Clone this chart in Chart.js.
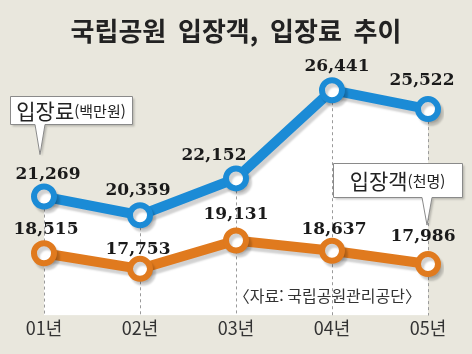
<!DOCTYPE html>
<html lang="ko">
<head>
<meta charset="UTF-8" />
<title>국립공원 입장객, 입장료 추이</title>
<script src="https://cdn.jsdelivr.net/npm/chart.js"></script>
<style>
  html, body { margin: 0; padding: 0; background: #e9e7dd; }
  #wrap { width: 472px; height: 354px; }
</style>
</head>
<body>
<div id="wrap"><canvas id="chart" width="472" height="354"></canvas></div>
<script>
  // data
  const years = ['01년', '02년', '03년', '04년', '05년'];
  const feeValues = [21269, 20359, 22152, 26441, 25522];      // 입장료(백만원)
  const visitorValues = [18515, 17753, 19131, 18637, 17986];  // 입장객(천명)

  const KR = '"Noto Sans CJK KR", "Noto Sans", sans-serif';
  const BLUE = '#1b8bd6';
  const ORANGE = '#e07a1e';

  // dashed drop lines from the upper line down to the bottom
  const dropLines = {
    id: 'dropLines',
    beforeDatasetsDraw(chart) {
      const ctx = chart.ctx, area = chart.chartArea;
      const meta = chart.getDatasetMeta(0);
      ctx.save();
      ctx.strokeStyle = '#9a9a9a';
      ctx.lineWidth = 1;
      ctx.setLineDash([3, 3]);
      meta.data.forEach(p => {
        ctx.beginPath();
        ctx.moveTo(Math.round(p.x) + 0.5, p.y);
        ctx.lineTo(Math.round(p.x) + 0.5, area.bottom);
        ctx.stroke();
      });
      ctx.restore();
    }
  };

  // soft drop shadow under lines and points
  const shadow = {
    id: 'shadow',
    beforeDatasetDraw(chart) {
      const ctx = chart.ctx;
      ctx.save();
      ctx.shadowColor = 'rgba(0,0,0,0.18)';
      ctx.shadowOffsetX = 3;
      ctx.shadowOffsetY = 4;
      ctx.shadowBlur = 2;
    },
    afterDatasetDraw(chart) {
      chart.ctx.restore();
    }
  };

  // value labels, legend callouts and source note
  const labels = {
    id: 'labels',
    afterDatasetsDraw(chart, args, opts) {
      const ctx = chart.ctx;
      ctx.save();
      ctx.font = 'bold 17px "DejaVu Serif", serif';
      ctx.fillStyle = '#1a1a1a';
      ctx.textAlign = 'center';
      ctx.textBaseline = 'alphabetic';
      chart.data.datasets.forEach((ds, di) => {
        const meta = chart.getDatasetMeta(di);
        const sh = opts.shift[di];
        meta.data.forEach((p, i) => {
          ctx.fillText(ds.data[i].toLocaleString('en-US'), p.x + sh.dx[i], p.y - sh.dy[i]);
        });
      });

      const fee0 = chart.getDatasetMeta(0).data[0];
      const vis4 = chart.getDatasetMeta(1).data[4];
      callout(ctx, 10, 96, 122, 28, fee0.x - 4, fee0.y - 42, '입장료', '(백만원)');
      callout(ctx, 333, 163, 129, 34, vis4.x - 1, vis4.y - 39, '입장객', '(천명)');

      ctx.font = '16px ' + KR;
      ctx.fillStyle = '#333';
      ctx.textAlign = 'right';
      ctx.textBaseline = 'middle';
      ctx.fillText('〈자료: 국립공원관리공단〉', 421, 296);
      ctx.restore();
    }
  };

  function callout(ctx, x, y, w, h, tipX, tipY, big, small) {
    ctx.save();
    ctx.shadowColor = 'rgba(0,0,0,0.2)';
    ctx.shadowOffsetX = 2;
    ctx.shadowOffsetY = 2;
    ctx.shadowBlur = 2;
    ctx.fillStyle = '#fff';
    ctx.strokeStyle = '#8a8a8a';
    ctx.lineWidth = 1;
    ctx.beginPath();
    ctx.moveTo(x + 0.5, y + 0.5);
    ctx.lineTo(x + w + 0.5, y + 0.5);
    ctx.lineTo(x + w + 0.5, y + h + 0.5);
    ctx.lineTo(tipX + 5, y + h + 0.5);
    ctx.lineTo(tipX, tipY);
    ctx.lineTo(tipX - 5, y + h + 0.5);
    ctx.lineTo(x + 0.5, y + h + 0.5);
    ctx.closePath();
    ctx.fill();
    ctx.shadowColor = 'transparent';
    ctx.stroke();
    ctx.fillStyle = '#222';
    ctx.textBaseline = 'middle';
    ctx.textAlign = 'left';
    ctx.font = '21px ' + KR;
    const bw = ctx.measureText(big).width;
    ctx.font = '15px ' + KR;
    const sw = ctx.measureText(small).width;
    const sx = x + (w - bw - sw) / 2;
    ctx.font = '21px ' + KR;
    ctx.fillText(big, sx, y + h / 2 + 1);
    ctx.font = '15px ' + KR;
    ctx.fillText(small, sx + bw, y + h / 2 + 1);
    ctx.restore();
  }

  new Chart(document.getElementById('chart'), {
    type: 'line',
    data: {
      labels: years,
      datasets: [
        {
          label: '입장료(백만원)',
          data: feeValues,
          borderColor: BLUE,
          borderWidth: 10,
          backgroundColor: '#ffffff',
          fill: 'start',
          pointRadius: 10,
          pointBorderWidth: 6,
          pointBackgroundColor: '#ffffff',
          pointBorderColor: BLUE,
          tension: 0
        },
        {
          label: '입장객(천명)',
          data: visitorValues,
          borderColor: ORANGE,
          borderWidth: 10,
          fill: false,
          pointRadius: 10,
          pointBorderWidth: 6,
          pointBackgroundColor: '#ffffff',
          pointBorderColor: ORANGE,
          tension: 0
        }
      ]
    },
    options: {
      responsive: false,
      animation: false,
      layout: { padding: { left: 44, right: 44, bottom: 13 } },
      plugins: {
        legend: { display: false },
        tooltip: { enabled: false },
        filler: { drawTime: 'beforeDatasetsDraw' },
        title: {
          display: true,
          text: '국립공원  입장객,  입장료  추이',
          color: '#222',
          font: { family: KR, size: 26, weight: 'bold' },
          padding: { top: 16, bottom: 12.8 }
        },
        labels: {
          shift: [
            { dx: [4, -2, -22, 5, -6], dy: [18, 20, 18, 19, 24] },
            { dx: [2, -2, 0, 2, -5], dy: [19, 15, 22, 17, 23] }
          ]
        }
      },
      scales: {
        x: {
          offset: false,
          grid: { display: false, drawTicks: false },
          border: { display: false },
          ticks: { color: '#333', font: { family: KR, size: 18 }, padding: 2 }
        },
        y: {
          display: false,
          min: 15490,
          max: 27910
        }
      }
    },
    plugins: [shadow, dropLines, labels]
  });
</script>
</body>
</html>
